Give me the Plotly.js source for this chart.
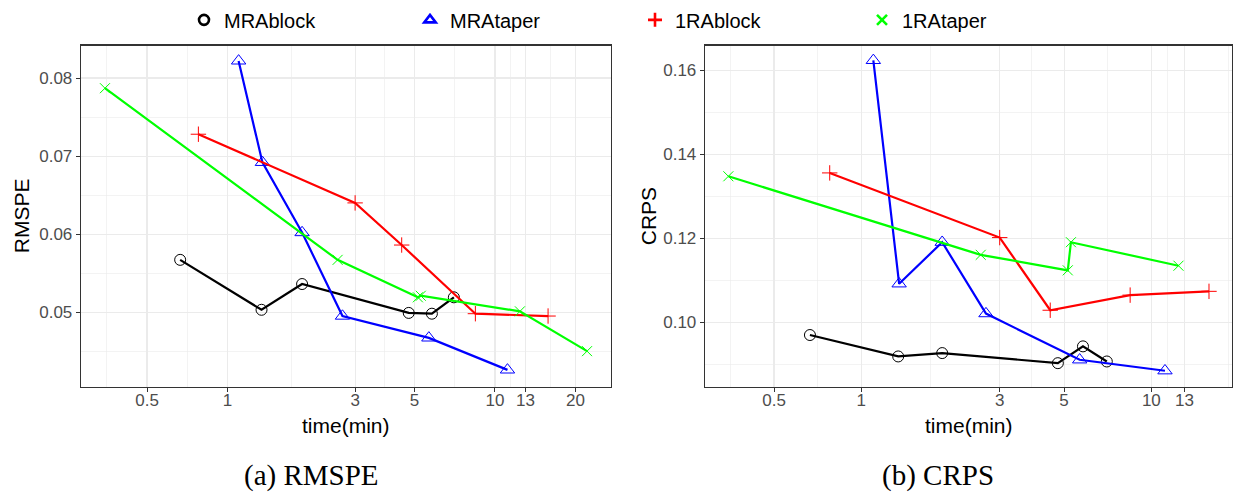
<!DOCTYPE html>
<html>
<head>
<meta charset="utf-8">
<script src="https://cdn.plot.ly/plotly-3.0.1.min.js"></script>
<style>
  html, body { margin: 0; padding: 0; background: #fff; }
  #chart { width: 1236px; height: 496px; }
</style>
</head>
<body>
<div id="chart"></div>
<script>
// ---------------- data ----------------
const seriesNames = ["MRAblock", "MRAtaper", "1RAblock", "1RAtaper"];

const timeMRAblock = [0.665, 1.34, 1.90, 4.76, 5.81, 7.02];
const rmspeMRAblock = [0.0567, 0.0503, 0.0536, 0.0499, 0.0498, 0.0519];
const crpsMRAblock  = [0.0970, 0.0919, 0.0927, 0.0903, 0.0943, 0.0907];

const timeMRAtaper = [1.10, 1.35, 1.90, 2.69, 5.66, 11.14];
const rmspeMRAtaper = [0.0822, 0.0692, 0.0602, 0.0495, 0.0467, 0.0426];
const crpsMRAtaper  = [0.1624, 0.1092, 0.1191, 0.1021, 0.0911, 0.0885];

const time1RAblock = [0.778, 3.00, 4.48, 8.45, 15.8];
const rmspe1RAblock = [0.0728, 0.0640, 0.0586, 0.0498, 0.0495];
const crps1RAblock  = [0.1356, 0.1202, 0.1029, 0.1065, 0.1074];

const time1RAtaper = [0.348, 2.58, 5.15, 5.28, 12.4, 22.1];
const rmspe1RAtaper = [0.0787, 0.0567, 0.0519, 0.0521, 0.0501, 0.0450];
const crps1RAtaper  = [0.1348, 0.1161, 0.1124, 0.1191, 0.1135, null];

const xTickVals1 = [0.5, 1, 3, 5, 10, 13, 20];
const xTickText1 = ["0.5", "1", "3", "5", "10", "13", "20"];
const xTickVals2 = [0.5, 1, 3, 5, 10, 13];
const xTickText2 = ["0.5", "1", "3", "5", "10", "13"];
const yTickVals1 = [0.05, 0.06, 0.07, 0.08];
const yTickText1 = ["0.05", "0.06", "0.07", "0.08"];
const yTickVals2 = [0.10, 0.12, 0.14, 0.16];
const yTickText2 = ["0.10", "0.12", "0.14", "0.16"];

// ---------------- styles ----------------
const W = 1236, H = 496;
const colors  = ["#000000", "#0000FF", "#FF0000", "#00FF00"];
const symbols = ["circle-open", "triangle-up-open", "cross-thin-open", "x-thin-open"];
const msizes  = [11, 12.5, 11, 10];

const times = [timeMRAblock, timeMRAtaper, time1RAblock, time1RAtaper];
const rmspe = [rmspeMRAblock, rmspeMRAtaper, rmspe1RAblock, rmspe1RAtaper];
const crps  = [crpsMRAblock, crpsMRAtaper, crps1RAblock, crps1RAtaper];

const traces = [];
function addSeries(i, xa, ya, yv) {
  traces.push({
    type: "scatter", mode: "lines+markers",
    x: times[i], y: yv, xaxis: xa, yaxis: ya,
    name: seriesNames[i], showlegend: false, connectgaps: false,
    line: { color: colors[i], width: 2.2 },
    marker: { symbol: symbols[i], size: msizes[i], color: colors[i],
              line: { color: colors[i], width: 1 } },
    hoverinfo: "x+y+name"
  });
}
for (let i = 0; i < 4; i++) addSeries(i, "x", "y", rmspe[i]);
for (let i = 0; i < 4; i++) addSeries(i, "x2", "y2", crps[i]);

// legend-only entries (markers only, like the reference key)
const legendIds = ["legend", "legend2", "legend3", "legend4"];
for (let i = 0; i < 4; i++) {
  traces.push({
    type: "scatter", mode: "markers", x: [null], y: [null],
    xaxis: "x", yaxis: "y", name: seriesNames[i], legend: legendIds[i],
    showlegend: true, hoverinfo: "skip",
    marker: { symbol: symbols[i], size: 10, color: colors[i],
              line: { color: colors[i], width: 2.6 } }
  });
}

const px = v => v / W;
const py = v => 1 - v / H;

const gridColor = "#EBEBEB";
const tickFont = { family: "Liberation Sans, Arial, sans-serif", size: 17, color: "#4D4D4D" };

function xAxis(domain, range, tv, tt, minorVals, anchor) {
  return {
    type: "log", domain: domain, range: range, anchor: anchor,
    tickmode: "array", tickvals: tv, ticktext: tt,
    ticks: "outside", ticklen: 4, tickwidth: 1, tickcolor: "#333333",
    ticklabelstandoff: -7,
    showline: true, mirror: true, linecolor: "#333333", linewidth: 1.3,
    showgrid: true, gridcolor: gridColor, gridwidth: 1.1, zeroline: false,
    tickfont: tickFont, automargin: false,
    minor: { tickmode: "array", tickvals: minorVals, ticks: "", showgrid: true,
             gridcolor: gridColor, gridwidth: 0.6 }
  };
}
function yAxis(domain, range, tv, tt, minorVals, anchor) {
  return {
    domain: domain, range: range, anchor: anchor,
    tickmode: "array", tickvals: tv, ticktext: tt,
    ticks: "outside", ticklen: 4, tickwidth: 1, tickcolor: "#333333",
    showline: true, mirror: true, linecolor: "#333333", linewidth: 1.3,
    showgrid: true, gridcolor: gridColor, gridwidth: 1.1, zeroline: false,
    tickfont: tickFont, automargin: false,
    minor: { tickmode: "array", tickvals: minorVals, ticks: "", showgrid: true,
             gridcolor: gridColor, gridwidth: 0.6 }
  };
}

const yDom = [py(386), py(42)];
const legendFont = { family: "Liberation Sans, Arial, sans-serif", size: 20, color: "#000000" };
function legendAt(xCenterPx) {
  return { orientation: "h", x: px(xCenterPx - 20), xanchor: "left", y: py(16), yanchor: "middle",
           bgcolor: "rgba(0,0,0,0)", borderwidth: 0, font: legendFont };
}

const titleFont = { family: "Liberation Sans, Arial, sans-serif", size: 21, color: "#000000" };
const capFont = { family: "Liberation Serif, Times New Roman, serif", size: 29, color: "#000000" };

const layout = {
  width: W, height: H,
  margin: { l: 0, r: 0, t: 0, b: 0 },
  paper_bgcolor: "#ffffff", plot_bgcolor: "#ffffff",
  xaxis:  xAxis([px(81), px(611)], [-0.548, 1.434], xTickVals1, xTickText1,
                [0.3536, 0.7071, 1.732, 3.873, 7.071, 11.40, 16.12], "y"),
  yaxis:  yAxis(yDom, [0.04042, 0.08415], yTickVals1, yTickText1,
                [0.045, 0.055, 0.065, 0.075], "x"),
  xaxis2: xAxis([px(705), px(1232)], [-0.539, 1.278], xTickVals2, xTickText2,
                [0.3536, 0.7071, 1.732, 3.873, 7.071, 11.40, 18.38], "y2"),
  yaxis2: yAxis(yDom, [0.08465, 0.1659], yTickVals2, yTickText2,
                [0.09, 0.11, 0.13, 0.15], "x2"),
  legend:  legendAt(204),
  legend2: legendAt(430),
  legend3: legendAt(655),
  legend4: legendAt(882),
  annotations: [
    { text: "time(min)", xref: "paper", yref: "paper", x: px(346), y: py(425),
      xanchor: "center", yanchor: "middle", showarrow: false, font: titleFont },
    { text: "time(min)", xref: "paper", yref: "paper", x: px(969), y: py(425),
      xanchor: "center", yanchor: "middle", showarrow: false, font: titleFont },
    { text: "RMSPE", xref: "paper", yref: "paper", x: px(21), y: py(214), textangle: -90,
      xanchor: "center", yanchor: "middle", showarrow: false, font: titleFont },
    { text: "CRPS", xref: "paper", yref: "paper", x: px(648), y: py(214), textangle: -90,
      xanchor: "center", yanchor: "middle", showarrow: false, font: titleFont },
    { text: "(a) RMSPE", xref: "paper", yref: "paper", x: px(311), y: py(475),
      xanchor: "center", yanchor: "middle", showarrow: false, font: capFont },
    { text: "(b) CRPS", xref: "paper", yref: "paper", x: px(938), y: py(475),
      xanchor: "center", yanchor: "middle", showarrow: false, font: capFont }
  ]
};

Plotly.newPlot("chart", traces, layout, { displayModeBar: false, staticPlot: true });
</script>
</body>
</html>
